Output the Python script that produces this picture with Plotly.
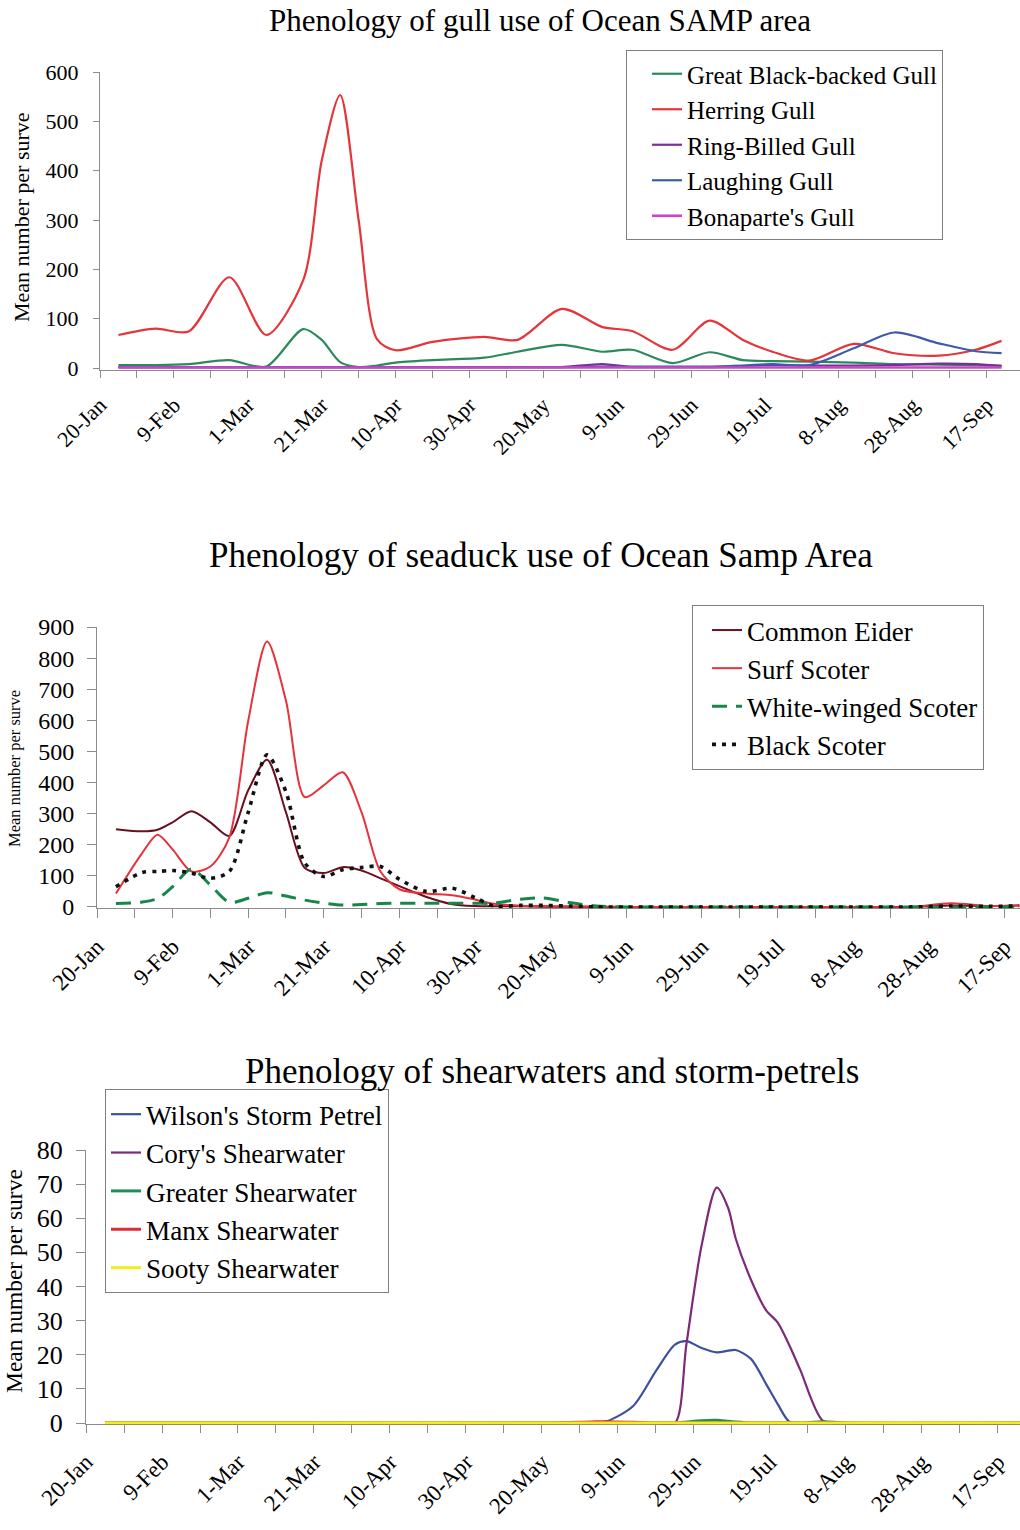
import plotly.graph_objects as go

SERIF = "Liberation Serif, Times New Roman, serif"
W, H = 1020, 1530

# ---------------- shared x axis (days after 20-Jan) ----------------
TICK_DAYS = [0, 20, 40, 60, 80, 100, 120, 140, 160, 180, 200, 220, 240]
TICK_TEXT = ['20-Jan', '9-Feb', '1-Mar', '21-Mar', '10-Apr', '30-Apr', '20-May',
             '9-Jun', '29-Jun', '19-Jul', '8-Aug', '28-Aug', '17-Sep']

# ---------------- chart 1: gulls ----------------
gull_days = [5, 15, 24, 35, 45, 55, 60, 65, 70, 75, 80, 90, 104, 113, 125, 136, 144,
             155, 165, 174, 182, 192, 204, 215, 227, 237, 244]
great_black_backed = [6, 6, 8, 16, 3, 79, 57, 12, 2, 5, 11, 16, 21, 33, 47, 33, 37,
                      10, 32, 16, 14, 13, 11, 8, 7, 6, 5]
herring = [67, 80, 74, 184, 67, 178, 420, 553, 300, 58, 36, 53, 63, 57, 120, 83, 75,
           37, 96, 57, 33, 15, 49, 30, 25, 37, 55]
ring_billed = [2, 2, 2, 2, 2, 2, 2, 2, 2, 2, 2, 2, 2, 2, 2, 8, 2,
               2, 2, 4, 6, 5, 5, 6, 9, 8, 4]
laughing = [2, 2, 2, 2, 2, 2, 2, 2, 2, 2, 2, 2, 2, 2, 2, 3, 3,
            3, 3, 5, 8, 6, 40, 72, 50, 34, 30]
bonapartes = [1] * len(gull_days)

# ---------------- chart 2: seaducks ----------------
duck_days = [5, 12, 16, 20, 25, 30, 35, 40, 45, 50, 55, 60, 65, 70, 75, 80, 87, 94,
             100, 105, 112, 118, 125, 132, 140, 160, 180, 200, 215, 226, 236, 244]
common_eider = [250, 243, 248, 272, 308, 272, 228, 375, 473, 304, 125, 109, 128, 117,
                92, 67, 33, 9, 3, 2, 2, 1, 1, 0, 0, 0, 0, 0, 0, 5, 3, 5]
surf_scoter = [43, 174, 232, 185, 114, 130, 223, 598, 853, 663, 353, 391, 433, 304,
               114, 57, 43, 38, 24, 10, 4, 3, 2, 1, 0, 0, 0, 0, 0, 12, 3, 5]
white_winged = [11, 16, 27, 65, 122, 70, 15, 28, 46, 35, 22, 12, 6, 8, 11, 12, 12, 12,
                12, 12, 25, 29, 14, 3, 0, 0, 0, 0, 0, 0, 0, 0]
black_scoter = [65, 111, 114, 117, 109, 92, 114, 304, 489, 370, 141, 98, 120, 127,
                130, 89, 50, 60, 30, 3, 5, 5, 3, 0, 0, 0, 0, 0, 0, 3, 2, 3]

# ---------------- chart 3: shearwaters & storm-petrels ----------------
tube_days = [5, 60, 120, 133, 137, 144, 150, 155, 158, 162, 166, 169, 171, 175, 179,
             182, 185, 188, 194, 200, 246]
wilsons = [0, 0, 0, 0, 0.5, 5, 15.3, 23, 24, 22, 20.7, 21.2, 21.4, 18.8, 11.4,
           5.6, 0.5, 0, 0, 0, 0]
corys = [0, 0, 0, 0, 0, 0, 0, 0, 23, 52, 69, 63, 54, 42, 33, 29.5, 23, 15.5, 0.6, 0, 0]
greater = [0, 0, 0, 0, 0, 0, 0, 0, 0.3, 0.7, 0.8, 0.5, 0.3, 0, 0, 0, 0, 0, 0.4, 0, 0]
manx = [0, 0, 0, 0.3, 0.4, 0.2, 0, 0, 0, 0, 0, 0, 0, 0, 0, 0, 0, 0, 0, 0, 0]
sooty = [0] * len(tube_days)


def fx(x):
    return x / W


def fy(y):
    return 1 - y / H


fig = go.Figure()


def add(xs, ys, name, color, width, axis, legend, dash=None):
    fig.add_trace(go.Scatter(
        x=xs, y=ys, name=name, mode='lines',
        line=dict(color=color, width=width, shape='spline', smoothing=0.8, dash=dash),
        xaxis='x' + axis, yaxis='y' + axis, legend=legend, hoverinfo='skip'))


add(gull_days, great_black_backed, 'Great Black-backed Gull', '#2b8a5c', 2.2, '', 'legend')
add(gull_days, herring, 'Herring Gull', '#e4353b', 2.2, '', 'legend')
add(gull_days, ring_billed, 'Ring-Billed Gull', '#7a2f98', 2.2, '', 'legend')
add(gull_days, laughing, 'Laughing Gull', '#3f5aa8', 2.2, '', 'legend')
add(gull_days, bonapartes, "Bonaparte's Gull", '#cc44c8', 2.6, '', 'legend')

add(duck_days, common_eider, 'Common Eider', '#6a1020', 2.0, '2', 'legend2')
add(duck_days, surf_scoter, 'Surf Scoter', '#e8323a', 2.0, '2', 'legend2')
add(duck_days, white_winged, 'White-winged Scoter', '#17864a', 3.0, '2', 'legend2', '15px,9px')
add(duck_days, black_scoter, 'Black Scoter', '#111111', 3.6, '2', 'legend2', '4px,6px')

add(tube_days, wilsons, "Wilson's Storm Petrel", '#3d4f9f', 2.2, '3', 'legend3')
add(tube_days, corys, "Cory's Shearwater", '#7d2a7a', 2.2, '3', 'legend3')
add(tube_days, greater, 'Greater Shearwater', '#1f8f55', 3.0, '3', 'legend3')
add(tube_days, manx, 'Manx Shearwater', '#e02c33', 3.0, '3', 'legend3')
add(tube_days, sooty, 'Sooty Shearwater', '#f2ee1c', 3.0, '3', 'legend3')

AXC = '#8c8c8c'


def xaxis(left, right_day, ticklen, fsize):
    return dict(
        domain=[fx(left), 1.0], range=[0, right_day], automargin=False,
        tickmode='array', tickvals=TICK_DAYS, ticktext=TICK_TEXT, tickangle=-45,
        tickfont=dict(family=SERIF, size=fsize, color='black'),
        ticks='outside', ticklen=ticklen, tickcolor=AXC,
        minor=dict(tickmode='linear', tick0=0, dtick=10, ticks='outside',
                   ticklen=ticklen, tickcolor=AXC),
        showline=True, linecolor=AXC, linewidth=1, showgrid=False, zeroline=False,
        ticklabelstandoff=6, layer='below traces', fixedrange=True)


def yaxis(bottom_px, top_px, rng, dtick, ticklen, fsize, standoff):
    return dict(
        domain=[fy(bottom_px), fy(top_px)], range=rng, dtick=dtick, tick0=0,
        automargin=False,
        tickfont=dict(family=SERIF, size=fsize, color='black'),
        ticks='outside', ticklen=ticklen, tickcolor=AXC,
        showline=True, linecolor=AXC, linewidth=1, showgrid=False, zeroline=False,
        ticklabelstandoff=standoff, layer='below traces', fixedrange=True)


def legend(x_px, y_px, size, indent=0):
    return dict(x=fx(x_px), y=fy(y_px), xanchor='left', yanchor='top',
                bgcolor='white', bordercolor='#7f7f7f', borderwidth=1,
                font=dict(family=SERIF, size=size, color='black'), tracegroupgap=0,
                indentation=indent)


annotations = [
    dict(text='Phenology of gull use of Ocean SAMP area', x=fx(540), y=fy(21),
         font=dict(size=31)),
    dict(text='Phenology of seaduck use of Ocean Samp Area', x=fx(541), y=fy(555),
         font=dict(size=35)),
    dict(text='Phenology of shearwaters and storm-petrels', x=fx(552), y=fy(1071),
         font=dict(size=35)),
    dict(text='Mean number per surve', x=fx(22), y=fy(217), textangle=-90,
         font=dict(size=22)),
    dict(text='Mean number per surve', x=fx(14), y=fy(769), textangle=-90,
         font=dict(size=16.5)),
    dict(text='Mean number per surve', x=fx(14), y=fy(1281), textangle=-90,
         font=dict(size=23.5)),
]
for a in annotations:
    a.update(xref='paper', yref='paper', showarrow=False, xanchor='center',
             yanchor='middle')
    a['font'].update(family=SERIF, color='black')

fig.update_layout(
    width=W, height=H, margin=dict(l=0, r=0, t=0, b=0, autoexpand=False),
    paper_bgcolor='white', plot_bgcolor='white', showlegend=True,
    xaxis=dict(xaxis(100, 249, 7, 22), anchor='y'),
    yaxis=dict(yaxis(369.5, 72, [-3, 600], 100, 6, 22, 10), anchor='x'),
    xaxis2=dict(xaxis(97, 244.2, 9, 23), anchor='y2'),
    yaxis2=dict(yaxis(908.2, 627, [-4, 900], 100, 9, 24, 8), anchor='x2'),
    xaxis3=dict(xaxis(86, 245.8, 8, 23), anchor='y3'),
    yaxis3=dict(yaxis(1424.4, 1150, [-0.4, 80], 10, 9, 26, 8), anchor='x3'),
    legend=legend(626, 50, 25, indent=20),
    legend2=legend(692, 605, 27, indent=14),
    legend3=legend(105, 1089, 27.2),
    annotations=annotations,
)

# remove the default 8px page margin so the figure fills the window exactly
fig.write_html('out.html', config={'displayModeBar': False},
               post_script="document.body.style.margin='0';")
